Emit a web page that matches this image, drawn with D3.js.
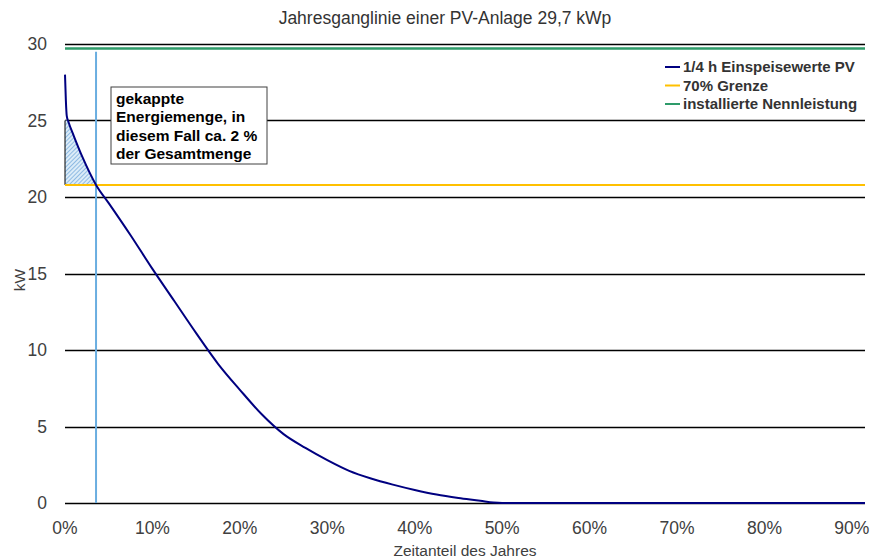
<!DOCTYPE html>
<html>
<head>
<meta charset="utf-8">
<script src="https://cdn.jsdelivr.net/npm/d3@7"></script>
<style>
  body { margin: 0; background: #fff; }
  text { font-family: "Liberation Sans", Arial, sans-serif; }
</style>
</head>
<body>
<script>
var svgWidth = 871;
var svgHeight = 560;
var margin = { top: 44, right: 6, bottom: 57, left: 65 };
var width = svgWidth - margin.left - margin.right;
var height = svgHeight - margin.top - margin.bottom;

// Dauerlinie: Zeitanteil (0..1) und Leistung in kW
var zeitanteil = [0, 0.001, 0.002, 0.004, 0.01, 0.02, 0.0355, 0.05, 0.075, 0.10, 0.125, 0.15, 0.175, 0.20, 0.225, 0.25, 0.275, 0.30, 0.325, 0.35, 0.375, 0.40, 0.425, 0.45, 0.475, 0.49, 0.50, 0.915];
var leistung = [28, 26.3, 25.3, 24.9, 24.0, 22.6, 20.79, 19.6, 17.5, 15.3, 13.2, 11.1, 9.1, 7.4, 5.8, 4.5, 3.6, 2.8, 2.1, 1.6, 1.2, 0.85, 0.55, 0.33, 0.15, 0.03, 0, 0];
var grenze70 = 20.79;
var nennleistung = 29.7;
var kappungsAnteil = 0.0355;
var yTicks = [0, 5, 10, 15, 20, 25, 30];
var xTicks = [0, 0.1, 0.2, 0.3, 0.4, 0.5, 0.6, 0.7, 0.8, 0.9];
var legende = ["1/4 h Einspeisewerte PV", "70% Grenze", "installierte Nennleistung"];
var legendeFarben = ["#000080", "#ffc000", "#2e9b6a"];
var notiz = ["gekappte", "Energiemenge, in", "diesem Fall ca. 2 %", "der Gesamtmenge"];

var data = zeitanteil.map((x, i) => ({ x: x, y: leistung[i] }));

var svg = d3.select("body").append("svg")
  .attr("width", svgWidth)
  .attr("height", svgHeight);

var defs = svg.append("defs");
var pat = defs.append("pattern")
  .attr("id", "hatch")
  .attr("patternUnits", "userSpaceOnUse")
  .attr("width", 3).attr("height", 3)
  .attr("patternTransform", "rotate(45)");
pat.append("rect").attr("width", 3).attr("height", 3).attr("fill", "#dcecf8");
pat.append("line").attr("x1", 0).attr("y1", 0).attr("x2", 0).attr("y2", 3)
  .attr("stroke", "#5b9bd5").attr("stroke-width", 1.2);

var chartGroup = svg.append("g")
  .attr("transform", `translate(${margin.left}, ${margin.top})`);

var xScale = d3.scaleLinear().domain([0, 0.915]).range([0, width]);
var yScale = d3.scaleLinear().domain([0, 30]).range([height, 0]);

// title
svg.append("text")
  .attr("x", 445).attr("y", 24)
  .attr("text-anchor", "middle")
  .attr("font-size", "17.5px")
  .attr("fill", "#333")
  .text("Jahresganglinie einer PV-Anlage 29,7 kWp");

// gridlines
chartGroup.selectAll(".grid")
  .data(yTicks)
  .enter()
  .append("line")
  .attr("x1", 0).attr("x2", width)
  .attr("y1", d => Math.round(yScale(d)) + 0.5).attr("y2", d => Math.round(yScale(d)) + 0.5)
  .attr("stroke", "#000").attr("stroke-width", 1.3);

// y axis labels
chartGroup.selectAll(".ylab")
  .data(yTicks)
  .enter()
  .append("text")
  .attr("x", -18)
  .attr("y", d => yScale(d) + 6)
  .attr("text-anchor", "end")
  .attr("font-size", "17.5px")
  .attr("fill", "#404040")
  .text(d => d);

// x axis labels
chartGroup.selectAll(".xlab")
  .data(xTicks)
  .enter()
  .append("text")
  .attr("x", d => xScale(d))
  .attr("y", height + 31)
  .attr("text-anchor", "middle")
  .attr("font-size", "17.5px")
  .attr("fill", "#404040")
  .text(d => Math.round(d * 100) + "%");

// axis titles
svg.append("text")
  .attr("x", 465).attr("y", 556)
  .attr("text-anchor", "middle")
  .attr("font-size", "15.5px")
  .attr("fill", "#404040")
  .text("Zeitanteil des Jahres");

svg.append("text")
  .attr("transform", "translate(25, 280) rotate(-90)")
  .attr("text-anchor", "middle")
  .attr("font-size", "15.5px")
  .attr("fill", "#404040")
  .text("kW");

// hatched capped energy area
var capData = data.filter(d => d.x <= kappungsAnteil);
var area = d3.area()
  .x(d => xScale(d.x))
  .y0(yScale(grenze70))
  .y1(d => yScale(Math.min(d.y, 25)));
chartGroup.append("path")
  .datum(capData)
  .attr("d", area)
  .attr("fill", "url(#hatch)");
chartGroup.append("path")
  .attr("d", `M${xScale(0)},${yScale(25)} V${yScale(grenze70)} H${xScale(kappungsAnteil)}`)
  .attr("fill", "none")
  .attr("stroke", "#000")
  .attr("stroke-width", 1);

// 70% limit
chartGroup.append("line")
  .attr("x1", 0).attr("x2", width)
  .attr("y1", yScale(grenze70)).attr("y2", yScale(grenze70))
  .attr("stroke", legendeFarben[1]).attr("stroke-width", 2);

// installed power
chartGroup.append("line")
  .attr("x1", 0).attr("x2", width)
  .attr("y1", yScale(nennleistung)).attr("y2", yScale(nennleistung))
  .attr("stroke", legendeFarben[2]).attr("stroke-width", 2.5);

// vertical marker
chartGroup.append("line")
  .attr("x1", xScale(kappungsAnteil)).attr("x2", xScale(kappungsAnteil))
  .attr("y1", yScale(29.5)).attr("y2", height)
  .attr("stroke", "#6aaee0").attr("stroke-width", 2);

// duration curve
var line = d3.line()
  .x(d => xScale(d.x))
  .y(d => yScale(d.y))
  .curve(d3.curveMonotoneX);
chartGroup.append("path")
  .datum(data)
  .attr("d", line)
  .attr("fill", "none")
  .attr("stroke", legendeFarben[0])
  .attr("stroke-width", 2);

// annotation box
var box = svg.append("g").attr("transform", "translate(111, 87)");
box.append("rect")
  .attr("width", 156).attr("height", 77)
  .attr("fill", "#fff")
  .attr("stroke", "#404040").attr("stroke-width", 1);
box.selectAll("text")
  .data(notiz)
  .enter()
  .append("text")
  .attr("x", 5)
  .attr("y", (d, i) => 17 + i * 18.3)
  .attr("font-size", "15.5px")
  .attr("font-weight", "bold")
  .attr("fill", "#000")
  .text(d => d);

// legend
var legend = svg.append("g").attr("transform", "translate(665, 67)");
legende.forEach(function(name, i) {
  legend.append("line")
    .attr("x1", 0).attr("x2", 15)
    .attr("y1", i * 18.5).attr("y2", i * 18.5)
    .attr("stroke", legendeFarben[i]).attr("stroke-width", 2);
  legend.append("text")
    .attr("x", 18).attr("y", i * 18.5 + 5)
    .attr("font-size", "15px")
    .attr("font-weight", "bold")
    .attr("fill", "#333")
    .text(name);
});
</script>
</body>
</html>
